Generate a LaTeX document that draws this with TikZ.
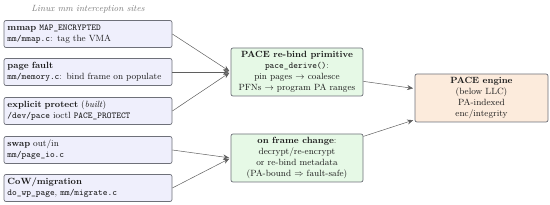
\documentclass[tikz,border=0pt]{standalone}
\usepackage{tikz}
\usetikzlibrary{arrows.meta}
\usetikzlibrary{positioning}
\definecolor{pcline}{HTML}{6E7079}
\definecolor{pcink}{HTML}{1A1A1A}
\definecolor{pcmuted}{HTML}{7A7A7A}
\definecolor{pcsitefill}{HTML}{EFEFFC}
\definecolor{pcprimfill}{HTML}{E6F9E6}
\definecolor{pcenginefill}{HTML}{FCEBDC}
\tikzset{
  pcsite/.style={
    draw=pcline, fill=pcsitefill, rounded corners=2pt, line width=0.7pt,
    font=\small, text=pcink, align=left, text width=161pt,
    minimum height=27pt, inner xsep=3.5pt, inner ysep=2pt},
  pcprim/.style={
    draw=pcline, fill=pcprimfill, rounded corners=2pt, line width=0.7pt,
    font=\small, text=pcink, align=center, minimum width=132pt,
    minimum height=48pt, inner sep=1.5pt},
  pcengine/.style={pcprim, fill=pcenginefill, minimum width=133pt},
  pcarrow/.style={-{Stealth[length=6pt, width=5pt]}, draw=pcink!70,
    line width=0.5pt, shorten >=1.5pt},
  pcnote/.style={font=\small\itshape, text=pcmuted},
}

\begin{document}
\begin{tikzpicture}[x=1pt, y=-1pt]
\useasboundingbox (0, 0) rectangle (550, 205);

% Header.
\node[pcnote] (title) at (88, 9) {Linux mm interception sites};

% Interception sites, one box per hook.
\node[pcsite] (mmap) at (88, 34)
  {\textbf{mmap} \texttt{MAP\_ENCRYPTED}\\
   \texttt{mm/mmap.c}: tag the VMA};
\node[pcsite] (fault) at (88, 72)
  {\textbf{page fault}\\
   \texttt{mm/memory.c}: bind frame on populate};
\node[pcsite] (protect) at (88, 111)
  {\textbf{explicit protect} (\textit{built})\\
   \texttt{/dev/pace} ioctl \texttt{PACE\_PROTECT}};
\node[pcsite] (swap) at (88, 150)
  {\textbf{swap} out/in\\
   \texttt{mm/page\_io.c}};
\node[pcsite] (migrate) at (88, 188)
  {\textbf{CoW/migration}\\
   \texttt{do\_wp\_page}, \texttt{mm/migrate.c}};

% The two kernel-side actions.
\node[pcprim] (rebind) at (297, 72)
  {\textbf{PACE re-bind primitive}\\
   \texttt{pace\_derive()}:\\
   pin pages $\rightarrow$ coalesce\\
   PFNs $\rightarrow$ program PA ranges};
\node[pcprim] (frame) at (297, 158)
  {\textbf{on frame change}:\\
   decrypt/re-encrypt\\
   or re-bind metadata\\
   (PA-bound $\Rightarrow$ fault-safe)};

% Hardware engine.
\node[pcengine] (engine) at (481.5, 98)
  {\textbf{PACE engine}\\
   (below LLC)\\
   PA-indexed\\
   enc/integrity};

% Sites feed the primitive or the frame-change path.
\foreach \s in {mmap, fault, protect} {
  \draw[pcarrow] (\s.east) -- (rebind.west);
}
\foreach \s in {swap, migrate} {
  \draw[pcarrow] (\s.east) -- (frame.west);
}
\draw[pcarrow] (rebind) -- (engine);
\draw[pcarrow] (frame) -- (engine);

\end{tikzpicture}
\end{document}
